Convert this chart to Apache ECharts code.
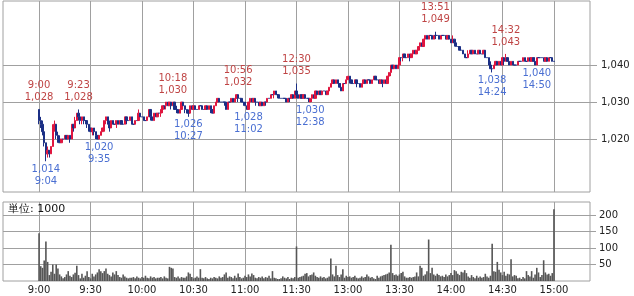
<!DOCTYPE html>
<html><head><meta charset="utf-8">
<script src="https://cdn.jsdelivr.net/npm/echarts@6.0.0/dist/echarts.min.js"></script>
<style>html,body{margin:0;padding:0;background:#fff}#c{width:634px;height:296px}</style>
</head><body><div id="c"></div>
<script>
// ---- data ----
const tickLabels = ['9:00','9:30','10:00','10:30','11:00','11:30','13:00','13:30','14:00','14:30','15:00'];
const tickMinutes = [0,30,60,90,120,150,180,210,240,270,300];
const priceTicks = [1020,1030,1040];
const volumeTicks = [50,100,150,200];
const unitLabel = '単位: 1000';
const highTimes = ['9:00','9:23','10:18','10:56','12:30','13:51','14:32'];
const highValues = [1028,1028,1030,1032,1035,1049,1043];
const lowTimes = ['9:04','9:35','10:27','11:02','12:38','14:24','14:50'];
const lowValues = [1014,1020,1026,1028,1030,1038,1040];
// one candle per minute: [open, close, low, high]
const candles = [
[1028,1025,1024,1028],[1025,1024,1023,1026],[1024,1022,1021,1025],[1022,1019,1018,1022],[1019,1016,1014,1019],[1016,1017,1015,1018],[1017,1016,1015,1017],[1016,1018,1016,1018],[1018,1023,1018,1024],[1023,1024,1022,1025],
[1024,1021,1020,1024],[1021,1020,1019,1022],[1020,1019,1019,1021],[1019,1020,1019,1020],[1020,1020,1020,1020],[1020,1021,1020,1021],[1021,1020,1020,1021],[1020,1021,1020,1021],[1021,1020,1019,1021],[1020,1024,1020,1024],
[1024,1023,1022,1024],[1023,1025,1023,1026],[1025,1027,1025,1027],[1027,1026,1025,1028],[1026,1025,1024,1026],[1025,1026,1024,1026],[1026,1025,1024,1026],[1025,1025,1024,1025],[1025,1024,1023,1025],[1024,1023,1022,1024],
[1023,1022,1022,1023],[1022,1023,1021,1023],[1023,1022,1021,1023],[1022,1021,1020,1022],[1021,1020,1020,1021],[1020,1021,1020,1021],[1021,1022,1021,1022],[1022,1023,1022,1023],[1023,1025,1022,1025],[1025,1026,1024,1026],
[1026,1024,1024,1026],[1024,1023,1022,1025],[1023,1025,1023,1025],[1025,1024,1024,1025],[1024,1024,1024,1024],[1024,1025,1023,1025],[1025,1024,1024,1025],[1024,1025,1024,1025],[1025,1024,1024,1025],[1024,1024,1024,1024],
[1024,1026,1024,1026],[1026,1025,1024,1026],[1025,1025,1025,1025],[1025,1026,1025,1026],[1026,1024,1024,1026],[1024,1024,1024,1024],[1024,1025,1024,1025],[1025,1025,1025,1025],[1025,1027,1025,1028],[1027,1026,1026,1027],
[1026,1026,1026,1026],[1026,1025,1025,1026],[1025,1025,1025,1025],[1025,1026,1025,1026],[1026,1028,1026,1028],[1028,1026,1025,1028],[1026,1025,1025,1026],[1025,1027,1025,1027],[1027,1026,1026,1027],[1026,1027,1026,1027],
[1027,1027,1027,1027],[1027,1028,1026,1028],[1028,1029,1027,1029],[1029,1029,1028,1029],[1029,1030,1028,1030],[1030,1029,1029,1030],[1029,1030,1029,1030],[1030,1029,1028,1030],[1029,1030,1029,1030],[1030,1028,1028,1030],
[1028,1028,1027,1029],[1028,1027,1027,1028],[1027,1028,1027,1028],[1028,1030,1028,1030],[1030,1029,1029,1030],[1029,1028,1027,1029],[1028,1027,1027,1028],[1027,1027,1026,1028],[1027,1029,1027,1029],[1029,1028,1028,1029],
[1028,1029,1028,1029],[1029,1028,1028,1029],[1028,1028,1028,1028],[1028,1029,1028,1029],[1029,1029,1029,1029],[1029,1028,1028,1029],[1028,1028,1028,1028],[1028,1029,1028,1029],[1029,1028,1028,1029],[1028,1029,1028,1029],
[1029,1028,1027,1029],[1028,1027,1027,1028],[1027,1029,1027,1029],[1029,1030,1029,1030],[1030,1031,1030,1031],[1031,1030,1030,1031],[1030,1030,1030,1030],[1030,1030,1030,1030],[1030,1030,1029,1030],[1030,1028,1028,1030],
[1028,1030,1028,1030],[1030,1030,1030,1030],[1030,1031,1030,1031],[1031,1030,1030,1031],[1030,1031,1030,1031],[1031,1032,1031,1032],[1032,1031,1030,1032],[1031,1031,1031,1031],[1031,1030,1030,1031],[1030,1030,1029,1030],
[1030,1029,1029,1030],[1029,1028,1028,1029],[1028,1030,1028,1030],[1030,1031,1029,1031],[1031,1030,1030,1031],[1030,1031,1030,1031],[1031,1030,1029,1031],[1030,1030,1030,1030],[1030,1029,1029,1030],[1029,1030,1029,1030],
[1030,1029,1029,1030],[1029,1030,1029,1030],[1030,1030,1029,1030],[1030,1031,1030,1031],[1031,1031,1031,1031],[1031,1032,1031,1032],[1032,1032,1032,1032],[1032,1033,1031,1033],[1033,1032,1032,1033],[1032,1032,1031,1032],
[1032,1031,1031,1032],[1031,1031,1031,1031],[1031,1031,1031,1031],[1031,1031,1031,1031],[1031,1030,1030,1031],[1030,1031,1030,1031],[1031,1031,1030,1031],[1031,1032,1031,1032],[1032,1031,1031,1032],[1031,1033,1031,1033],
[1033,1032,1031,1035],[1032,1031,1031,1032],[1031,1032,1031,1032],[1032,1031,1031,1032],[1031,1032,1031,1032],[1032,1031,1031,1032],[1031,1031,1031,1031],[1031,1031,1030,1031],[1030,1031,1030,1031],[1031,1032,1030,1032],
[1032,1031,1031,1032],[1031,1033,1031,1033],[1033,1032,1032,1033],[1032,1033,1032,1033],[1033,1032,1032,1033],[1032,1033,1032,1033],[1033,1033,1033,1033],[1033,1032,1032,1033],[1032,1033,1032,1033],[1033,1034,1033,1034],
[1034,1035,1034,1035],[1035,1036,1035,1036],[1036,1035,1035,1036],[1035,1036,1035,1036],[1036,1035,1035,1036],[1035,1034,1034,1035],[1034,1033,1033,1035],[1033,1035,1033,1035],[1035,1035,1035,1035],[1035,1036,1035,1037],
[1036,1037,1036,1037],[1037,1036,1035,1037],[1036,1035,1035,1036],[1035,1035,1035,1035],[1035,1036,1035,1036],[1036,1035,1034,1036],[1035,1035,1035,1035],[1035,1034,1034,1035],[1034,1035,1034,1035],[1035,1036,1035,1036],
[1036,1035,1035,1036],[1035,1036,1035,1036],[1036,1036,1036,1036],[1036,1035,1035,1036],[1035,1036,1035,1036],[1036,1037,1036,1037],[1037,1036,1036,1037],[1036,1036,1036,1036],[1036,1035,1035,1036],[1035,1036,1035,1036],
[1036,1035,1034,1036],[1035,1036,1035,1036],[1036,1035,1035,1036],[1035,1037,1035,1037],[1037,1038,1036,1038],[1038,1040,1037,1040],[1040,1039,1039,1040],[1039,1040,1039,1040],[1040,1039,1039,1040],[1039,1040,1039,1040],
[1040,1042,1040,1042],[1042,1042,1041,1042],[1042,1043,1041,1043],[1043,1042,1042,1043],[1042,1042,1042,1042],[1042,1043,1042,1043],[1043,1042,1041,1043],[1042,1043,1042,1043],[1043,1044,1043,1044],[1044,1043,1043,1044],
[1043,1044,1043,1044],[1044,1045,1044,1045],[1045,1046,1045,1046],[1046,1045,1045,1046],[1045,1047,1045,1047],[1047,1048,1046,1048],[1048,1047,1047,1048],[1047,1048,1047,1048],[1048,1048,1048,1048],[1048,1047,1047,1048],
[1047,1048,1047,1048],[1048,1048,1047,1049],[1048,1048,1048,1048],[1048,1047,1047,1048],[1047,1048,1047,1048],[1048,1048,1048,1048],[1048,1048,1048,1048],[1048,1047,1047,1048],[1047,1048,1047,1048],[1048,1047,1047,1048],
[1047,1046,1046,1047],[1046,1047,1046,1048],[1047,1046,1045,1047],[1046,1045,1045,1046],[1045,1045,1045,1045],[1045,1044,1044,1045],[1044,1044,1044,1044],[1044,1043,1043,1044],[1043,1042,1042,1043],[1042,1042,1042,1042],
[1042,1043,1042,1044],[1043,1044,1043,1044],[1044,1043,1043,1044],[1043,1044,1043,1044],[1044,1043,1043,1044],[1043,1043,1043,1043],[1043,1044,1043,1044],[1044,1043,1043,1044],[1043,1043,1043,1043],[1043,1044,1043,1044],
[1044,1042,1042,1044],[1042,1042,1042,1042],[1042,1040,1040,1042],[1040,1039,1039,1041],[1039,1039,1038,1040],[1039,1040,1039,1040],[1040,1041,1040,1041],[1041,1040,1040,1041],[1040,1041,1040,1041],[1041,1040,1040,1041],
[1040,1042,1040,1042],[1042,1041,1040,1042],[1041,1042,1041,1043],[1042,1041,1041,1042],[1041,1040,1040,1041],[1040,1041,1040,1041],[1041,1040,1040,1041],[1040,1040,1040,1040],[1040,1040,1040,1040],[1040,1041,1040,1041],
[1041,1041,1041,1041],[1041,1041,1041,1041],[1041,1042,1041,1042],[1042,1041,1041,1042],[1041,1041,1041,1041],[1041,1042,1041,1042],[1042,1041,1041,1042],[1041,1042,1041,1042],[1042,1041,1041,1042],[1041,1040,1040,1042],
[1040,1042,1040,1042],[1042,1042,1042,1042],[1042,1042,1042,1042],[1042,1042,1042,1042],[1042,1041,1041,1042],[1041,1042,1041,1042],[1042,1041,1041,1042],[1041,1042,1041,1042],[1042,1042,1042,1042],[1042,1041,1041,1042],
[1041,1041,1041,1041]
];
// volume per minute, in thousands
const volumes = [
145,45,40,62,120,58,18,28,50,22,
50,38,20,14,8,12,20,30,16,12,
20,25,46,18,8,22,10,16,30,12,
8,22,14,20,26,36,30,24,30,38,
22,18,14,26,20,30,18,12,10,20,
14,10,8,10,10,12,8,14,10,8,
12,10,16,10,8,14,10,12,8,10,
10,12,8,14,10,8,43,40,38,12,
10,14,8,12,10,10,14,26,22,12,
8,10,14,10,36,10,8,12,8,6,
10,8,12,10,8,14,10,12,20,26,
10,14,12,8,16,10,23,12,8,10,
16,12,20,14,23,18,10,8,12,10,
14,8,12,10,16,8,30,10,8,6,
6,8,14,10,8,12,6,10,8,12,
105,10,12,14,16,22,24,14,18,20,
26,16,12,10,14,10,12,8,10,14,
68,20,14,46,18,12,20,36,10,16,
12,14,10,12,16,10,8,10,14,10,
12,20,14,10,12,8,6,16,10,14,
16,18,20,22,26,110,24,18,20,16,
20,24,28,14,10,10,12,10,12,14,
26,14,46,40,16,20,30,126,24,40,
20,16,22,18,14,16,12,20,14,18,
24,18,33,30,22,18,28,26,33,24,
14,10,18,12,8,16,10,14,10,12,
22,14,10,16,113,30,28,58,34,26,
18,28,16,22,20,66,14,18,16,8,
10,6,12,8,30,18,14,30,10,20,
40,26,12,18,63,26,20,22,16,24,
218
];

// ---- build ----
const PAD = 21;
const FONT = 'DejaVu Sans';
const GRID = '#a0a0a0';
const UP = '#e0163f', DOWN = '#1b2f85';
function minuteLabel(m) {
  let t;
  if (m < 150) t = 9 * 60 + m;
  else t = 12 * 60 + 30 + (m - 150);
  return Math.floor(t / 60) + ':' + String(t % 60).padStart(2, '0');
}
const categories = [];
for (let i = -PAD; i <= 300 + PAD; i++) categories.push(minuteLabel(i));
const candleData = categories.map((c, i) => { const m = i - PAD; return (m >= 0 && m < candles.length) ? candles[m] : '-'; });
const volData = categories.map((c, i) => { const m = i - PAD; return (m >= 0 && m < volumes.length) ? volumes[m] : '-'; });
const tickIdx = new Set(tickMinutes.map(m => m + PAD));
const labelByCat = {};
tickMinutes.forEach((m, k) => { labelByCat[categories[m + PAD]] = tickLabels[k]; });
const fmt = v => Number(v).toLocaleString('en-US');

const highMarks = highTimes.map((t, i) => ({ coord: [t, highValues[i]], value: highValues[i],
  label: { position: 'top', distance: 6, color: '#bf4444', formatter: t + '\n' + fmt(highValues[i]) } }));
const lowMarks = lowTimes.map((t, i) => ({ coord: [t, lowValues[i]], value: lowValues[i],
  label: { position: 'bottom', distance: 2, color: '#4a6fd2', formatter: fmt(lowValues[i]) + '\n' + t } }));

const chart = echarts.init(document.getElementById('c'), null, { renderer: 'canvas' });
chart.setOption({
  animation: false,
  backgroundColor: '#fff',
  textStyle: { fontFamily: FONT },
  title: { text: unitLabel, left: 8, top: 204, padding: 0,
    textStyle: { fontSize: 11, fontWeight: 'normal', color: '#111', fontFamily: FONT } },
  grid: [
    { left: 3, right: 44, top: 1, height: 191, show: true, borderColor: GRID, borderWidth: 1, containLabel: false },
    { left: 3, right: 44, top: 202, height: 79, show: true, borderColor: GRID, borderWidth: 1, containLabel: false }
  ],
  xAxis: [
    { type: 'category', gridIndex: 0, data: categories, boundaryGap: false,
      axisLine: { show: false }, axisTick: { show: false }, axisLabel: { show: false },
      splitLine: { show: true, interval: i => tickIdx.has(i), lineStyle: { color: GRID, width: 1 } } },
    { type: 'category', gridIndex: 1, data: categories, boundaryGap: false,
      axisLine: { show: false }, axisTick: { show: false },
      axisLabel: { show: true, interval: i => tickIdx.has(i), formatter: v => labelByCat[v] || '',
        margin: 4, fontSize: 10, color: '#222', fontFamily: FONT },
      splitLine: { show: true, interval: i => tickIdx.has(i), lineStyle: { color: GRID, width: 1 } } }
  ],
  yAxis: [
    { type: 'value', gridIndex: 0, position: 'right', min: 1005.7, max: 1057.3,
      axisLine: { show: false },
      axisTick: { show: true, length: 7, customValues: priceTicks, lineStyle: { color: GRID } },
      axisLabel: { show: true, customValues: priceTicks, formatter: fmt, margin: 11, fontSize: 10, color: '#222', fontFamily: FONT },
      splitLine: { show: true, lineStyle: { color: GRID, width: 1 } } },
    { type: 'value', gridIndex: 1, position: 'right', min: 0, max: 240,
      axisLine: { show: false },
      axisTick: { show: true, length: 6, customValues: volumeTicks, lineStyle: { color: GRID } },
      axisLabel: { show: true, customValues: volumeTicks, margin: 9, fontSize: 10, color: '#222', fontFamily: FONT },
      splitLine: { show: true, lineStyle: { color: GRID, width: 1 } } }
  ],
  series: [
    { type: 'candlestick', xAxisIndex: 0, yAxisIndex: 0, data: candleData, barWidth: 1.8,
      itemStyle: { color: UP, color0: DOWN, borderColor: UP, borderColor0: DOWN, borderColorDoji: '#1b2f85', borderWidth: 1 },
      markPoint: { symbol: 'circle', symbolSize: 0, silent: true, animation: false,
        label: { show: true, fontSize: 10, lineHeight: 12, fontFamily: FONT },
        data: highMarks.concat(lowMarks) } },
    { type: 'bar', xAxisIndex: 1, yAxisIndex: 1, data: volData, barWidth: 1.6,
      itemStyle: { color: '#565656' } }
  ]
});
</script>
</body></html>
